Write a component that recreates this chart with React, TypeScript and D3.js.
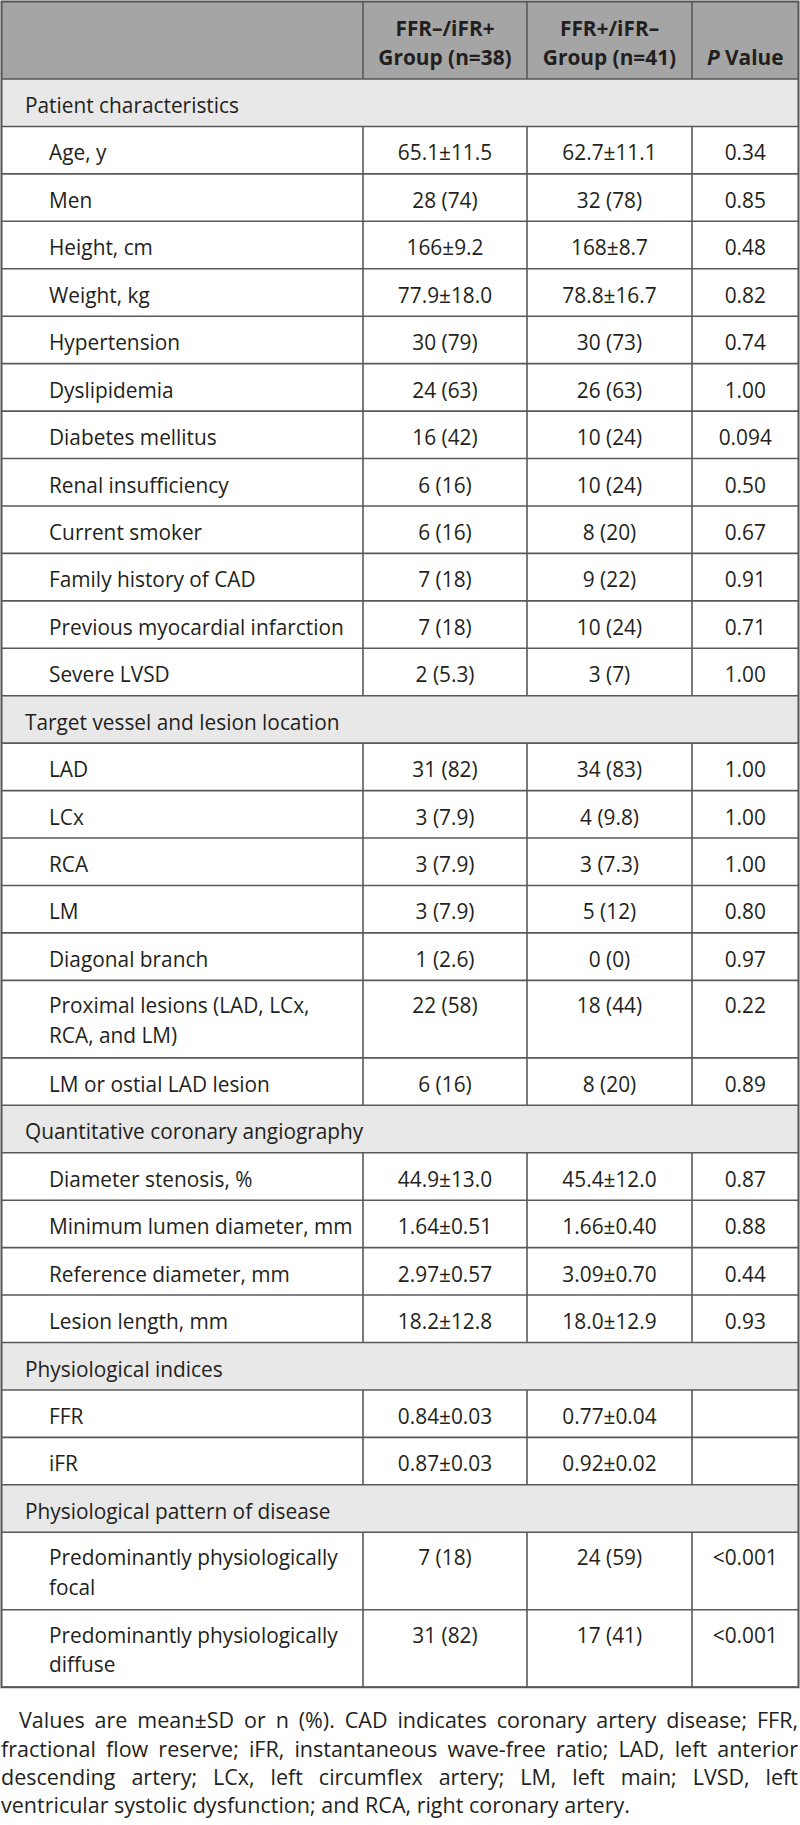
import React, { useEffect, useRef } from "react";
import * as d3 from "d3";

// ---------- data ----------
const columnHeaders: string[][] = [
  [""],
  ["FFR–/iFR+", "Group (n=38)"],
  ["FFR+/iFR–", "Group (n=41)"],
  ["P Value"],
];

const rowKinds: string[] = [
  "section", "item", "item", "item", "item", "item", "item", "item", "item", "item", "item", "item", "item",
  "section", "item", "item", "item", "item", "item", "item", "item",
  "section", "item", "item", "item", "item",
  "section", "item", "item",
  "section", "item", "item",
];

const rowLabels: string[][] = [
  ["Patient characteristics"],
  ["Age, y"],
  ["Men"],
  ["Height, cm"],
  ["Weight, kg"],
  ["Hypertension"],
  ["Dyslipidemia"],
  ["Diabetes mellitus"],
  ["Renal insufficiency"],
  ["Current smoker"],
  ["Family history of CAD"],
  ["Previous myocardial infarction"],
  ["Severe LVSD"],
  ["Target vessel and lesion location"],
  ["LAD"],
  ["LCx"],
  ["RCA"],
  ["LM"],
  ["Diagonal branch"],
  ["Proximal lesions (LAD, LCx,", "RCA, and LM)"],
  ["LM or ostial LAD lesion"],
  ["Quantitative coronary angiography"],
  ["Diameter stenosis, %"],
  ["Minimum lumen diameter, mm"],
  ["Reference diameter, mm"],
  ["Lesion length, mm"],
  ["Physiological indices"],
  ["FFR"],
  ["iFR"],
  ["Physiological pattern of disease"],
  ["Predominantly physiologically", "focal"],
  ["Predominantly physiologically", "diffuse"],
];

const group1Values: string[] = [
  "", "65.1±11.5", "28 (74)", "166±9.2", "77.9±18.0", "30 (79)", "24 (63)", "16 (42)", "6 (16)", "6 (16)", "7 (18)", "7 (18)", "2 (5.3)",
  "", "31 (82)", "3 (7.9)", "3 (7.9)", "3 (7.9)", "1 (2.6)", "22 (58)", "6 (16)",
  "", "44.9±13.0", "1.64±0.51", "2.97±0.57", "18.2±12.8",
  "", "0.84±0.03", "0.87±0.03",
  "", "7 (18)", "31 (82)",
];

const group2Values: string[] = [
  "", "62.7±11.1", "32 (78)", "168±8.7", "78.8±16.7", "30 (73)", "26 (63)", "10 (24)", "10 (24)", "8 (20)", "9 (22)", "10 (24)", "3 (7)",
  "", "34 (83)", "4 (9.8)", "3 (7.3)", "5 (12)", "0 (0)", "18 (44)", "8 (20)",
  "", "45.4±12.0", "1.66±0.40", "3.09±0.70", "18.0±12.9",
  "", "0.77±0.04", "0.92±0.02",
  "", "24 (59)", "17 (41)",
];

const pValues: string[] = [
  "", "0.34", "0.85", "0.48", "0.82", "0.74", "1.00", "0.094", "0.50", "0.67", "0.91", "0.71", "1.00",
  "", "1.00", "1.00", "1.00", "0.80", "0.97", "0.22", "0.89",
  "", "0.87", "0.88", "0.44", "0.93",
  "", "", "",
  "", "<0.001", "<0.001",
];

const footnoteLines: string[] = [
  "Values are mean±SD or n (%). CAD indicates coronary artery disease; FFR,",
  "fractional flow reserve; iFR, instantaneous wave-free ratio; LAD, left anterior",
  "descending artery; LCx, left circumflex artery; LM, left main; LVSD, left",
  "ventricular systolic dysfunction; and RCA, right coronary artery.",
];

// ---------- layout ----------
const W = 800;
const H = 1825;
const FONT = "'Open Sans', 'Noto Sans', sans-serif";
const FS = 21.5;
const colEdges = [1.5, 363, 527, 692, 798.5];
const headerTop = 1.5;
const headerBottom = 79;
const singleH = 47.44;
const doubleH = 77.5;
const tableLeft = 1.5;
const tableRight = 798.5;
const condense = 0.97;

export default function App() {
  const ref = useRef<SVGSVGElement | null>(null);

  useEffect(() => {
    const svg = d3.select(ref.current);
    svg.selectAll("*").remove();

    // row positions
    const heights = rowLabels.map((l) => (l.length > 1 ? doubleH : singleH));
    const tops: number[] = [];
    let y = headerBottom;
    heights.forEach((h) => {
      tops.push(y);
      y += h;
    });
    const tableBottom = y;

    // header background
    svg.append("rect")
      .attr("x", tableLeft).attr("y", headerTop)
      .attr("width", tableRight - tableLeft).attr("height", headerBottom - headerTop)
      .attr("fill", "#a5a5a5");

    // section backgrounds
    rowKinds.forEach((k, i) => {
      if (k === "section") {
        svg.append("rect")
          .attr("x", tableLeft).attr("y", tops[i])
          .attr("width", tableRight - tableLeft).attr("height", heights[i])
          .attr("fill", "#e8e8e8");
      }
    });

    const lineColor = "#595959";
    const lines = svg.append("g").attr("stroke", lineColor).attr("stroke-width", 1.6);

    // horizontal lines
    const hLines = [headerBottom, ...tops.slice(1), tableBottom];
    hLines.forEach((yy) => {
      lines.append("line").attr("x1", tableLeft).attr("x2", tableRight).attr("y1", yy).attr("y2", yy);
    });
    // vertical separators (not through section rows)
    [colEdges[1], colEdges[2], colEdges[3]].forEach((x) => {
      lines.append("line").attr("x1", x).attr("x2", x).attr("y1", headerTop).attr("y2", headerBottom);
      rowKinds.forEach((k, i) => {
        if (k !== "section") {
          lines.append("line").attr("x1", x).attr("x2", x).attr("y1", tops[i]).attr("y2", tops[i] + heights[i]);
        }
      });
    });
    // outer border
    svg.append("rect")
      .attr("x", tableLeft).attr("y", headerTop)
      .attr("width", tableRight - tableLeft).attr("height", tableBottom - headerTop)
      .attr("fill", "none").attr("stroke", "#555").attr("stroke-width", 2);

    const txt = svg.append("g")
      .attr("font-family", FONT)
      .attr("font-size", FS)
      .attr("fill", "#231f20");

    const centers = [0, 1, 2, 3].map((i) => (colEdges[i] + colEdges[i + 1]) / 2);

    const put = (x: number, yy: number, anchor: string) =>
      txt.append("text")
        .attr("transform", `translate(${x},${yy}) scale(${condense},1)`)
        .attr("text-anchor", anchor);

    // header
    [1, 2].forEach((c) => {
      columnHeaders[c].forEach((ln, j) => {
        put(centers[c], 36 + j * 29, "middle").attr("font-weight", 700).text(ln);
      });
    });
    const pv = put(centers[3], 65, "middle").attr("font-weight", 700);
    pv.append("tspan").attr("font-style", "italic").text("P");
    pv.append("tspan").text(" Value");

    // rows
    rowLabels.forEach((lbls, i) => {
      const isSection = rowKinds[i] === "section";
      const base = lbls.length > 1 ? tops[i] + 33 : tops[i] + 34;
      lbls.forEach((ln, j) => {
        put(isSection ? 25 : 49, base + j * 29.5, "start").text(ln);
      });
      [group1Values[i], group2Values[i], pValues[i]].forEach((v, c) => {
        if (!v) return;
        put(centers[c + 1], base, "middle").text(v);
      });
    });

    // footnote (justified)
    const fnBase = [1728, 1757, 1785, 1813];
    footnoteLines.forEach((ln, i) => {
      const x0 = i === 0 ? 19 : 1;
      const t = txt.append("text").attr("x", x0).attr("y", fnBase[i]).text(ln);
      if (i < footnoteLines.length - 1) {
        const node = t.node() as SVGTextElement;
        const natural = node.getComputedTextLength();
        const spaces = (ln.match(/ /g) || []).length;
        const extra = (798 - x0 - natural) / spaces;
        t.attr("word-spacing", extra);
      }
    });
  }, []);

  return (
    <svg
      ref={ref}
      width={W}
      height={H}
      viewBox={`0 0 ${W} ${H}`}
      style={{ position: "absolute", left: 0, top: 0, display: "block", background: "#fff" }}
    />
  );
}
